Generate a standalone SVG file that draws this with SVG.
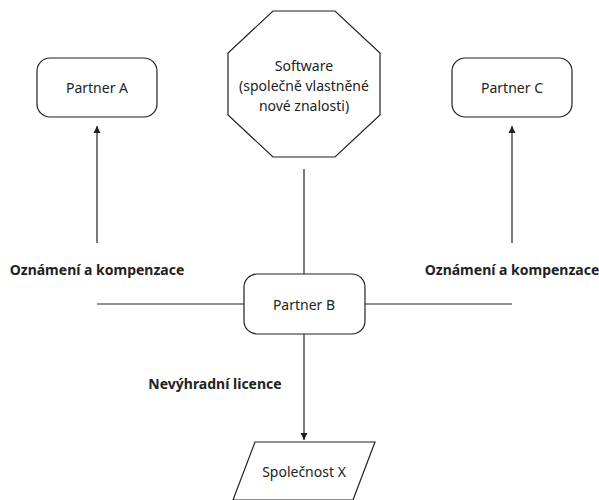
<svg xmlns="http://www.w3.org/2000/svg" width="599" height="500" viewBox="0 0 599 500">
<defs>
<style>
.shape{fill:#fff;stroke:#222;stroke-width:1.2}
.t{font-family:"Noto Sans","Liberation Sans",sans-serif;font-size:14px;fill:#222;text-anchor:middle;dominant-baseline:central}
.b{font-weight:bold}
.c{stroke:#222;stroke-width:1.2;fill:none}
</style>
<marker id="ah" viewBox="0 0 10 10" refX="10" refY="5" markerWidth="7" markerHeight="10" markerUnits="userSpaceOnUse" orient="auto">
<path d="M0,0 L10,5 L0,10 Z" fill="#222"/>
</marker>
</defs>
<rect width="599" height="500" fill="#fff"/>
<g id="connectors">
<line class="c" x1="97" y1="243" x2="97" y2="126" marker-end="url(#ah)"/>
<line class="c" x1="512" y1="243" x2="512" y2="126" marker-end="url(#ah)"/>
<line class="c" x1="304" y1="169" x2="304" y2="274"/>
<line class="c" x1="97" y1="304" x2="244" y2="304"/>
<line class="c" x1="365" y1="304" x2="512" y2="304"/>
<line class="c" x1="304" y1="334" x2="304" y2="440" marker-end="url(#ah)"/>
<text class="t b" x="97" y="269">Oznámení a kompenzace</text>
<text class="t b" x="512" y="269">Oznámení a kompenzace</text>
<text class="t b" x="215" y="383">Nevýhradní licence</text>
</g>
<g id="partnerA">
<rect class="shape" x="37" y="58" width="120" height="59" rx="13"/>
<text class="t" x="97" y="87.5">Partner A</text>
</g>
<g id="partnerC">
<rect class="shape" x="452" y="58" width="120" height="59" rx="13"/>
<text class="t" x="512" y="87.5">Partner C</text>
</g>
<g id="software">
<polygon class="shape" points="273,11 335,11 380,53 380,115 335,157 273,157 228,115 228,53"/>
<text class="t" x="304" y="65">Software</text>
<text class="t" x="304" y="85">(společně vlastněné</text>
<text class="t" x="304" y="105">nové znalosti)</text>
</g>
<g id="partnerB">
<rect class="shape" x="244" y="274" width="121" height="60" rx="13"/>
<text class="t" x="304" y="304">Partner B</text>
</g>
<g id="spolecnostX">
<polygon class="shape" points="255,442 375,442 353,500 233,500"/>
<text class="t" x="304" y="471">Společnost X</text>
</g>
</svg>
